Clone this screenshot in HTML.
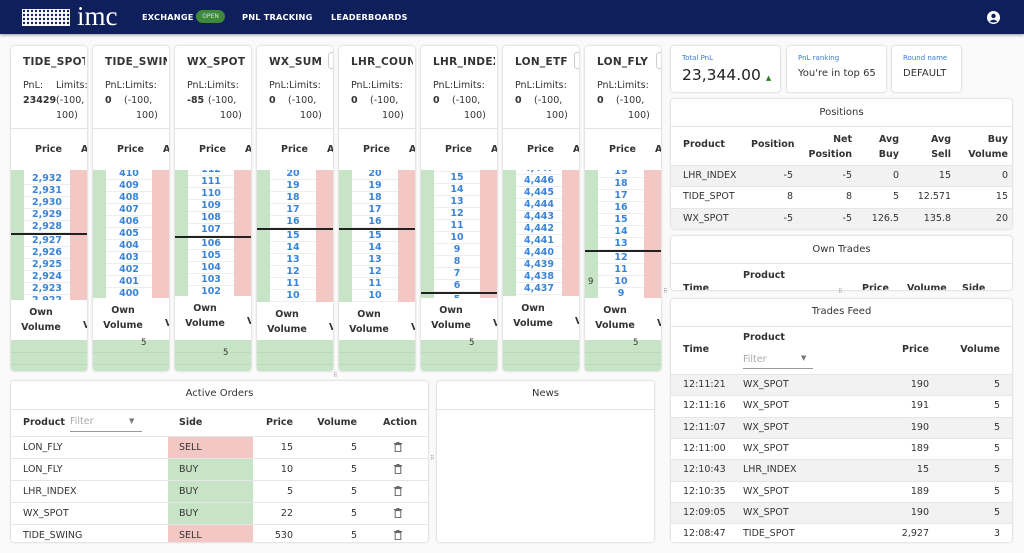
<!DOCTYPE html>
<html><head><meta charset="utf-8">
<style>
*{box-sizing:border-box;margin:0;padding:0}
body{width:1024px;height:553px;overflow:hidden;background:#fafafa;font-family:"DejaVu Sans","Liberation Sans",sans-serif;color:#333;position:relative;font-size:9.5px}
.a{position:absolute;white-space:nowrap}
.nav{position:absolute;left:0;top:0;width:1024px;height:34px;background:#0e1f5b;box-shadow:0 1px 3px rgba(0,0,0,.4)}
.nl{position:absolute;top:12px;color:#fff;font-weight:bold;font-size:8.2px;letter-spacing:.2px}
.card{position:absolute;top:46px;width:76px;height:325px;background:#fff;border-radius:3px;box-shadow:0 0 2px rgba(0,0,0,.25);overflow:hidden}
.panel{position:absolute;background:#fff;border-radius:3px;box-shadow:0 0 2px rgba(0,0,0,.25);overflow:hidden}
.b{font-weight:bold}
.hl{position:absolute;left:0;right:0;height:1px;background:#e4e4e4}
.r{text-align:right}
</style></head><body>
<div class="nav">
<svg class="a" style="left:22px;top:9px" width="48" height="17">
<defs><pattern id="p" width="4" height="4" patternUnits="userSpaceOnUse"><rect width="4" height="4" fill="#fff"/><circle cx="2" cy="2" r="1.2" fill="#0e1f5b"/></pattern></defs>
<rect width="48" height="17" fill="url(#p)"/></svg>
<div class="a" style="left:77px;top:1px;color:#fff;font-family:'Liberation Serif',serif;font-size:27px;letter-spacing:0px">imc</div>
<div class="nl" style="left:142px">EXCHANGE</div>
<div class="a" style="left:196px;top:10px;width:29px;height:13px;border-radius:7px;background:#3f8a3a;color:#cfe8cc;font-size:6px;text-align:center;line-height:13px">OPEN</div>
<div class="nl" style="left:242px">PNL TRACKING</div>
<div class="nl" style="left:331px">LEADERBOARDS</div>
<svg class="a" style="left:987px;top:11px" width="13" height="13"><circle cx="6.5" cy="6.5" r="6.5" fill="#fff"/><circle cx="6.5" cy="5" r="2.2" fill="#0e1f5b"/><path d="M2.6 10.5 Q6.5 6.8 10.4 10.5 Q6.5 12.5 2.6 10.5Z" fill="#0e1f5b"/></svg>
</div>

<div id="cards"></div>

<div class="panel" style="left:671px;top:46px;width:109px;height:46px">
<div class="a" style="left:11px;top:8px;color:#3a7bd5;font-size:7px">Total PnL</div>
<div class="a" style="left:11px;top:20px;font-size:15.5px;color:#222">23,344.00 <span style="color:#2e7d32;font-size:7px">▲</span></div></div>
<div class="panel" style="left:787px;top:46px;width:99px;height:46px">
<div class="a" style="left:11px;top:8px;color:#3a7bd5;font-size:7px">PnL ranking</div>
<div class="a" style="left:11px;top:22px;font-size:10px">You're in top 65</div></div>
<div class="panel" style="left:892px;top:46px;width:69px;height:46px">
<div class="a" style="left:11px;top:8px;color:#3a7bd5;font-size:7px">Round name</div>
<div class="a" style="left:11px;top:22px;font-size:10px">DEFAULT</div></div>

<div class="panel" style="left:671px;top:99px;width:341px;height:130px">
<div class="a" style="left:0;width:341px;text-align:center;top:8px;font-size:10px">Positions</div>
<div class="hl" style="top:27px"></div>
<div class="a b" style="left:12px;top:40px">Product</div>
<div class="a b" style="left:80px;top:40px">Position</div>
<div class="a b r" style="right:160px;top:33px;line-height:15px">Net<br>Position</div>
<div class="a b r" style="right:113px;top:33px;line-height:15px">Avg<br>Buy</div>
<div class="a b r" style="right:61px;top:33px;line-height:15px">Avg<br>Sell</div>
<div class="a b r" style="right:4px;top:33px;line-height:15px">Buy<br>Volume</div>
<div id="pos"></div>
</div>

<div class="panel" style="left:671px;top:236px;width:341px;height:54px">
<div class="a" style="left:0;width:341px;text-align:center;top:8px;font-size:10px">Own Trades</div>
<div class="hl" style="top:27px"></div>
<div class="a b" style="left:72px;top:34px">Product</div>
<div class="a b" style="left:12px;top:47px">Time</div>
<div class="a b" style="left:191px;top:47px">Price</div>
<div class="a b" style="left:236px;top:47px">Volume</div>
<div class="a b" style="left:291px;top:47px">Side</div>
</div>
<div class="a" style="left:663px;top:288px;font-size:6px;color:#888">⠿</div>
<div class="a" style="left:838px;top:288px;font-size:6px;color:#888">⠿</div>

<div class="panel" style="left:671px;top:299px;width:341px;height:243px">
<div class="a" style="left:0;width:341px;text-align:center;top:7px;font-size:10px">Trades Feed</div>
<div class="hl" style="top:27px"></div>
<div class="a b" style="left:12px;top:45px">Time</div>
<div class="a b" style="left:72px;top:33px">Product</div>
<div class="a" style="left:72px;top:55px;color:#aaa">Filter</div>
<div class="a" style="left:130px;top:55px;color:#777;font-size:7px">▼</div>
<div class="a" style="left:72px;top:69px;width:70px;height:1px;background:#999"></div>
<div class="a b r" style="right:83px;top:45px">Price</div>
<div class="a b r" style="right:12px;top:45px">Volume</div>
<div id="tf"></div>
</div>

<div class="a" style="left:333px;top:372px;font-size:6px;color:#888">⠿</div>
<div class="panel" style="left:11px;top:381px;width:417px;height:161px">
<div class="a" style="left:0;width:417px;text-align:center;top:7px;font-size:10px">Active Orders</div>
<div class="hl" style="top:28px"></div>
<div class="a b" style="left:12px;top:36px">Product</div>
<div class="a" style="left:59px;top:35px;color:#aaa">Filter</div>
<div class="a" style="left:118px;top:36px;color:#777;font-size:7px">▼</div>
<div class="a" style="left:59px;top:50px;width:72px;height:1px;background:#999"></div>
<div class="a b" style="left:168px;top:36px">Side</div>
<div class="a b r" style="right:135px;top:36px">Price</div>
<div class="a b r" style="right:71px;top:36px">Volume</div>
<div class="a b" style="left:372px;top:36px">Action</div>
<div id="ao"></div>
</div>
<div class="a" style="left:430px;top:455px;font-size:6px;color:#888">⠿</div>
<div class="panel" style="left:437px;top:381px;width:217px;height:161px">
<div class="a" style="left:0;width:217px;text-align:center;top:7px;font-size:10px">News</div>
<div class="hl" style="top:28px"></div>
</div>

<script>
var cards=[
 {t:"TIDE_SPOT",p:"23429",first:2932,y0:180,line:5,end:300},
 {t:"TIDE_SWING",p:"0",first:410,y0:175,line:-1,end:298,v:"5",vy:1},
 {t:"WX_SPOT",p:"-85",first:112,y0:171,line:6,end:296,v:"5",vy:2},
 {t:"WX_SUM",p:"0",first:20,y0:175,line:5,end:302,box:1},
 {t:"LHR_COUNT",p:"0",first:20,y0:175,line:5,end:302},
 {t:"LHR_INDEX",p:"0",first:16,y0:167,line:11,end:298,v:"5",vy:1},
 {t:"LON_ETF",p:"0",first:4447,y0:170,line:-1,end:296,box:1},
 {t:"LON_FLY",p:"0",first:19,y0:173,line:7,end:298,box:1,v:"5",vy:1,nine:1}
];
var H="";
function fmt(n){return n>=1000?String(n).replace(/(\d)(\d{3})$/,"$1,$2"):String(n)}
cards.forEach(function(c,i){
 var L=11+82*i;
 var big=c.p.length>3;
 H+='<div class="card" style="left:'+L+'px">';
 H+='<div class="a b" style="left:12px;top:10px;font-size:10.5px;width:'+(c.box?56:62)+'px;overflow:hidden;letter-spacing:.3px">'+c.t+'</div>';
 if(c.box)H+='<div class="a" style="left:71px;top:6px;width:10px;height:17px;border:1px solid #ccc;border-radius:3px"></div>';
 if(big){
  H+='<div class="a" style="left:12px;top:34px">PnL:</div><div class="a" style="left:45px;top:34px">Limits:</div>';
  H+='<div class="a b" style="left:12px;top:49px">'+c.p+'</div><div class="a" style="left:45px;top:49px">(-100,</div><div class="a" style="left:45px;top:64px">100)</div>';
 }else{
  var off=c.p.length>1?33:31;
  H+='<div class="a" style="left:12px;top:34px">PnL:Limits:</div>';
  H+='<div class="a b" style="left:12px;top:49px">'+c.p+'</div><div class="a" style="left:'+off+'px;top:49px">(-100,</div><div class="a" style="left:'+(off+12)+'px;top:64px">100)</div>';
 }
 H+='<div class="hl" style="top:82px"></div>';
 H+='<div class="a" style="left:-2px;top:98px;font-size:7px">:</div><div class="a b" style="left:24px;top:98px">Price</div><div class="a b" style="left:70px;top:98px">A</div>';
 var top=124,bot=c.end-46;
 H+='<div class="a" style="left:0;top:'+top+'px;width:76px;height:'+(bot-top)+'px;overflow:hidden">';
 H+='<div class="a" style="left:0;top:0;width:13px;height:100%;background:#c8e4c6"></div>';
 H+='<div class="a" style="left:59px;top:0;width:17px;height:100%;background:#f2c7c4"></div>';
 for(var k=0;k<14;k++){
  var y=c.y0-46-top+12*k+(c.line>=0&&k>=c.line?2:0);
  var n=c.first-k;
  H+='<div class="a b" style="left:13px;top:'+(y-7)+'px;width:46px;height:12px;text-align:center;color:#3b85d6;font-size:9.5px;line-height:12px;border-bottom:1px solid #eee">'+fmt(n)+'</div>';
  if(c.nine&&n==10)H+='<div class="a" style="left:3px;top:'+(y-7)+'px;line-height:12px;font-size:8.5px">9</div>';
 }
 if(c.line>=0){var ly=c.y0-46-top+12*c.line-7;H+='<div class="a" style="left:0;top:'+ly+'px;width:76px;height:1.5px;background:#222"></div>';}
 H+='</div>';
 var oy=c.end-46;
 H+='<div class="a b" style="left:0;width:60px;text-align:center;top:'+(oy+5)+'px;line-height:15px">Own<br>Volume</div><div class="a b" style="left:72px;top:'+(oy+20)+'px">V</div>';
 H+='<div class="a" style="left:0;top:294px;width:76px;height:31px;background:#c8e4c6"></div>';
 H+='<div class="a" style="left:0;top:306px;width:76px;height:1px;background:#b9d9b7"></div><div class="a" style="left:0;top:318px;width:76px;height:1px;background:#b9d9b7"></div>';
 if(c.v)H+='<div class="a" style="left:48px;top:'+(c.vy==2?302:292)+'px;font-size:8.5px">5</div>';
 H+='</div>';
});
document.getElementById('cards').innerHTML=H;
var P=[["LHR_INDEX","-5","-5","0","15","0"],["TIDE_SPOT","8","8","5","12.571","15"],["WX_SPOT","-5","-5","126.5","135.8","20"]];
var R=[230,160,113,61,4];H="";
P.forEach(function(r,i){var y=66+21.3*i;
 H+='<div class="a" style="left:0;top:'+y+'px;width:341px;height:21px;background:'+(i%2?'#fff':'#f2f2f2')+';border-top:1px solid #e6e6e6"></div>';
 H+='<div class="a" style="left:12px;top:'+(y+5)+'px">'+r[0]+'</div>';
 for(var j=1;j<6;j++)H+='<div class="a r" style="right:'+(j==1?219:R[j-1])+'px;top:'+(y+5)+'px">'+r[j]+'</div>';
});
document.getElementById('pos').innerHTML=H;
var T=[["12:11:21","WX_SPOT","190","5"],["12:11:16","WX_SPOT","191","5"],["12:11:07","WX_SPOT","190","5"],["12:11:00","WX_SPOT","189","5"],["12:10:43","LHR_INDEX","15","5"],["12:10:35","WX_SPOT","189","5"],["12:09:05","WX_SPOT","190","5"],["12:08:47","TIDE_SPOT","2,927","3"]];
H="";T.forEach(function(r,i){var y=75+21.3*i;
 H+='<div class="a" style="left:0;top:'+y+'px;width:341px;height:22px;background:'+(i%2?'#fff':'#f2f2f2')+';border-top:1px solid #e6e6e6"></div>';
 H+='<div class="a" style="left:12px;top:'+(y+5)+'px">'+r[0]+'</div><div class="a" style="left:72px;top:'+(y+5)+'px">'+r[1]+'</div>';
 H+='<div class="a r" style="right:83px;top:'+(y+5)+'px">'+r[2]+'</div><div class="a r" style="right:12px;top:'+(y+5)+'px">'+r[3]+'</div>';
});
document.getElementById('tf').innerHTML=H;
var A=[["LON_FLY","SELL","15"],["LON_FLY","BUY","10"],["LHR_INDEX","BUY","5"],["WX_SPOT","BUY","22"],["TIDE_SWING","SELL","530"]];
H="";A.forEach(function(r,i){var y=55+22*i;
 H+='<div class="a" style="left:0;top:'+y+'px;width:417px;height:22px;border-top:1px solid #e6e6e6"></div>';
 H+='<div class="a" style="left:157px;top:'+(y+1)+'px;width:85px;height:21px;background:'+(r[1]=="SELL"?'#f2c7c4':'#c8e4c6')+'"></div>';
 H+='<div class="a" style="left:12px;top:'+(y+6)+'px">'+r[0]+'</div><div class="a" style="left:168px;top:'+(y+6)+'px">'+r[1]+'</div>';
 H+='<div class="a r" style="right:135px;top:'+(y+6)+'px">'+r[2]+'</div><div class="a r" style="right:71px;top:'+(y+6)+'px">5</div>';
 H+='<svg class="a" style="left:383px;top:'+(y+6)+'px" width="8" height="10"><rect x="0" y="1" width="8" height="1.3" fill="#666"/><rect x="2.5" y="0" width="3" height="1" fill="#666"/><rect x="1.2" y="2.6" width="5.6" height="7" fill="none" stroke="#666" stroke-width="1"/></svg>';
});
document.getElementById('ao').innerHTML=H;
</script>
</body></html>
